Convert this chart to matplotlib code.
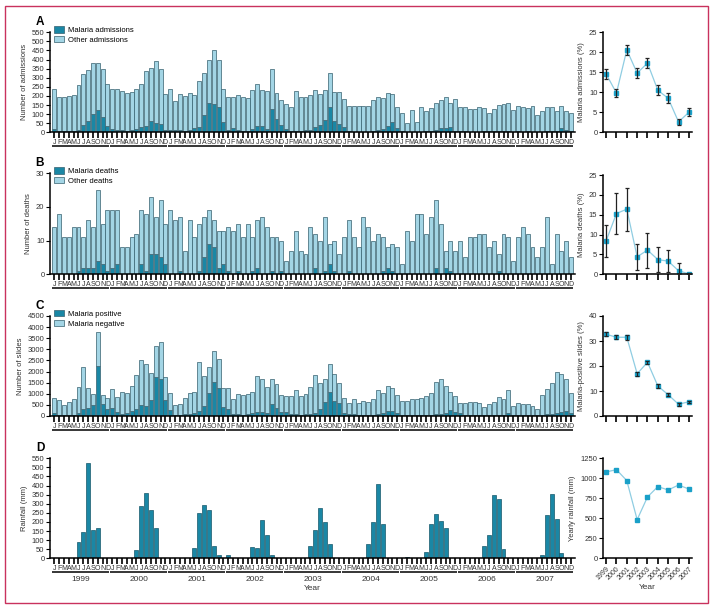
import numpy as np
import matplotlib.pyplot as plt
from matplotlib.patches import Rectangle, Patch
from matplotlib.transforms import blended_transform_factory

plt.rcParams['font.family'] = ['Liberation Sans Narrow', 'Liberation Sans', 'DejaVu Sans']

years = [1999, 2000, 2001, 2002, 2003, 2004, 2005, 2006, 2007]
month_letters = list("JFMAMJJASOND")

# panel A - monthly admissions (total) and malaria admissions
admissions_total = [
    236, 195, 195, 200, 207, 258, 320, 340, 380, 380, 348, 265,
    240, 238, 228, 215, 224, 238, 265, 335, 352, 393, 346, 213,
    238, 170, 210, 200, 215, 205, 280, 325, 395, 455, 400, 238,
    195, 193, 203, 195, 190, 232, 265, 232, 225, 347, 215, 180,
    155, 138, 225, 193, 196, 203, 235, 210, 232, 325, 220, 220,
    183, 145, 145, 145, 145, 145, 178, 192, 189, 214, 213, 141,
    104, 49, 123, 57, 137, 117, 132, 163, 178, 192, 160, 185,
    141, 137, 130, 130, 141, 132, 108, 126, 148, 156, 160, 123,
    145, 141, 134, 145, 94, 117, 137, 137, 119, 145, 115, 108,
]
admissions_malaria = [
    16, 8, 5, 8, 8, 10, 40, 60, 100, 125, 82, 35,
    20, 15, 10, 8, 15, 20, 28, 35, 62, 52, 48, 15,
    15, 12, 10, 8, 15, 25, 30, 95, 160, 155, 140, 55,
    15, 22, 10, 8, 8, 20, 35, 35, 20, 130, 72, 40,
    18, 8, 5, 8, 10, 15, 30, 42, 68, 138, 62, 46,
    27, 5, 4, 3, 3, 3, 8, 13, 20, 37, 57, 22,
    5, 3, 2, 3, 3, 5, 8, 15, 26, 26, 27, 8,
    5, 5, 4, 3, 3, 5, 6, 8, 6, 5, 5, 4,
    5, 4, 5, 3, 3, 4, 5, 8, 5, 22, 13, 8,
]

# panel B - deaths
deaths_total = [
    14, 18, 11, 11, 14, 14, 11, 16, 14, 25, 15, 19,
    19, 19, 8, 8, 11, 12, 19, 18, 23, 17, 22, 15,
    19, 16, 17, 7, 16, 11, 15, 17, 19, 16, 13, 13,
    14, 13, 15, 11, 15, 11, 16, 17, 14, 11, 11, 10,
    4, 7, 13, 7, 6, 14, 12, 10, 17, 9, 10, 6,
    11, 16, 11, 8, 17, 14, 10, 12, 11, 8, 9, 8,
    3, 13, 10, 18, 18, 12, 17, 22, 15, 7, 10, 7,
    10, 5, 11, 11, 12, 12, 8, 10, 6, 12, 11, 4,
    11, 14, 12, 8, 5, 8, 17, 3, 12, 7, 10, 5,
]
deaths_malaria = [
    0, 0, 0, 0, 0, 1, 2, 2, 2, 4, 3, 1,
    2, 3, 0, 0, 0, 0, 3, 1, 6, 6, 5, 3,
    0, 0, 1, 0, 0, 0, 1, 5, 9, 8, 2, 3,
    1, 0, 1, 0, 0, 1, 2, 0, 0, 1, 0, 1,
    0, 0, 0, 0, 0, 0, 2, 0, 1, 3, 1, 0,
    0, 1, 0, 0, 0, 0, 0, 0, 1, 2, 1, 0,
    0, 0, 0, 0, 0, 0, 0, 2, 0, 2, 1, 0,
    0, 0, 0, 0, 0, 0, 0, 0, 1, 0, 0, 0,
    0, 0, 0, 0, 0, 0, 0, 0, 0, 0, 0, 0,
]

# panel C - slides
slides_total = [
    800, 700, 500, 650, 750, 1300, 2220, 1280, 1000, 3780, 950, 800,
    1200, 850, 1100, 1020, 1370, 1850, 2520, 2340, 1950, 3150, 3350, 1750,
    1050, 500, 540, 800, 1020, 1060, 2420, 1780, 2190, 2940, 2550, 1250,
    1260, 750, 980, 950, 980, 1060, 1780, 1650, 1320, 1680, 1430, 950,
    920, 900, 1150, 920, 980, 1300, 1850, 1500, 1650, 2340, 1890, 1470,
    800, 570, 750, 570, 660, 615, 750, 1170, 1020, 1365, 1245, 945,
    675, 660, 750, 750, 825, 900, 1035, 1515, 1665, 1365, 1095, 900,
    570, 570, 615, 615, 570, 420, 540, 615, 870, 750, 1155, 465,
    570, 525, 540, 465, 300, 945, 1215, 1470, 1965, 1875, 1650, 1020,
]
slides_positive = [
    135, 50, 50, 50, 60, 120, 300, 350, 500, 2230, 550, 330,
    350, 160, 90, 120, 240, 320, 500, 450, 720, 1750, 1670, 730,
    250, 60, 50, 70, 90, 120, 220, 470, 1020, 1550, 1260, 420,
    300, 90, 90, 60, 90, 150, 200, 180, 150, 540, 380, 160,
    200, 100, 70, 60, 70, 90, 120, 330, 620, 1065, 690, 570,
    150, 90, 70, 60, 60, 60, 60, 90, 120, 225, 225, 150,
    60, 50, 50, 50, 50, 60, 60, 80, 105, 135, 270, 200,
    120, 60, 50, 50, 50, 40, 50, 50, 60, 60, 120, 50,
    50, 40, 40, 40, 30, 60, 90, 100, 150, 180, 225, 120,
]

# panel D - rainfall (mm)
rainfall = [
    0, 0, 0, 0, 0, 88, 145, 525, 155, 168, 0, 0,
    0, 0, 0, 0, 0, 45, 288, 358, 265, 165, 0, 0,
    0, 0, 0, 0, 0, 58, 250, 295, 265, 68, 20, 4,
    17, 0, 0, 0, 0, 63, 55, 212, 130, 20, 0, 0,
    0, 0, 0, 0, 0, 68, 155, 279, 198, 79, 0, 0,
    0, 0, 0, 0, 0, 79, 200, 410, 190, 4, 0, 0,
    0, 5, 0, 0, 0, 35, 190, 242, 205, 168, 0, 0,
    0, 4, 0, 0, 0, 68, 128, 348, 325, 51, 0, 0,
    0, 0, 0, 0, 0, 18, 236, 354, 214, 31, 0, 0,
]

# yearly summaries
pct_admissions = [14.6, 9.8, 20.6, 14.8, 17.3, 10.5, 8.5, 2.6, 5.0]
pct_admissions_err = [1.2, 1.0, 1.3, 1.3, 1.3, 1.2, 1.2, 0.8, 1.0]
pct_deaths = [8.4, 15.3, 16.4, 4.4, 6.1, 3.7, 3.3, 0.9, 0.1]
pct_deaths_err = [4.0, 5.1, 5.4, 3.3, 4.4, 3.2, 2.8, 1.9, 0.3]
pct_slides = [32.7, 31.5, 31.5, 16.9, 21.5, 12.0, 8.5, 4.7, 5.7]
pct_slides_err = [0.8, 0.8, 0.9, 0.8, 0.7, 0.7, 0.6, 0.5, 0.5]
yearly_rain = [1079, 1108, 971, 483, 767, 896, 854, 916, 866]

DARK = '#1a87a5'
LIGHT = '#a3d5e5'
EDGE = '#35606e'
LINE = '#8fcde2'
MARK = '#1aa0c8'
TXT = '#333333'

W, H = 714, 609
fig = plt.figure(figsize=(W / 100, H / 100), dpi=100)


def box(x0, x1, ytop, ybot):
    return [x0 / W, 1 - ybot / H, (x1 - x0) / W, (ybot - ytop) / H]


x = np.arange(len(rainfall))


def left_panel(rows, ymax, step, ylabel, letter, year_labels=False):
    ax = fig.add_axes(box(50, 575, rows[0], rows[1]))
    ax.set_xlim(-0.9, 107.8)
    ax.set_ylim(0, ymax)
    ax.set_yticks(np.arange(0, ymax + 1, step))
    ax.set_xticks(x)
    ax.set_xticklabels(month_letters * len(years))
    for s in ['top', 'right']:
        ax.spines[s].set_visible(False)
    ax.spines['left'].set_linewidth(1.1)
    ax.spines['bottom'].set_linewidth(1.1)
    ax.tick_params(axis='x', length=4, width=1.2, pad=1, labelsize=5, labelcolor=TXT)
    ax.tick_params(axis='y', length=3, width=0.8, pad=1, labelsize=5.5, labelcolor=TXT)
    ax.set_ylabel(ylabel, fontsize=5.5, color=TXT, labelpad=3)
    trans = blended_transform_factory(ax.transData, ax.transAxes)
    for k in range(len(years)):
        ax.plot([12 * k - 0.45, 12 * k + 11.3], [-0.14, -0.14], color='black',
                lw=1.1, transform=trans, clip_on=False, solid_capstyle='butt')
        if year_labels:
            ax.text(12 * k + 5.5, -0.21, str(years[k]), transform=trans,
                    fontsize=6, color=TXT, ha='center', va='center')
    if year_labels:
        ax.text(0.5, -0.30, 'Year', transform=ax.transAxes, fontsize=6,
                color=TXT, ha='center', va='center')
    fig.text(40 / W, 1 - (rows[0] - 10) / H, letter, fontsize=8.5,
             fontweight='bold', ha='center', va='center')
    return ax


def stacked(ax, total, part, labels):
    total = np.array(total)
    part = np.array(part)
    ax.bar(x, part, width=0.82, color=DARK, edgecolor=EDGE, linewidth=0.5)
    ax.bar(x, total - part, bottom=part, width=0.82, color=LIGHT,
           edgecolor=EDGE, linewidth=0.5)
    handles = [Patch(facecolor=DARK, edgecolor=EDGE, lw=0.5),
               Patch(facecolor=LIGHT, edgecolor=EDGE, lw=0.5)]
    ax.legend(handles, labels, loc='upper left', bbox_to_anchor=(0.008, 1.06),
              frameon=False, fontsize=5.5, handlelength=1.3, handleheight=0.9,
              labelspacing=0.25, handletextpad=0.5, borderaxespad=0, borderpad=0)


def right_panel(rows, ymax, step, ylabel, vals, err=None, xlabels=False):
    ax = fig.add_axes(box(603, 692, rows[0], rows[1]))
    ax.set_xlim(1998.7, 2007.3)
    ax.set_ylim(0, ymax)
    ax.set_yticks(np.arange(0, ymax + 1, step))
    ax.set_xticks(years)
    for s in ['top', 'right']:
        ax.spines[s].set_visible(False)
    ax.spines['left'].set_linewidth(1.1)
    ax.spines['bottom'].set_linewidth(1.1)
    ax.tick_params(axis='x', length=4, width=1.2, pad=1, labelsize=5, labelcolor=TXT)
    ax.tick_params(axis='y', length=3, width=0.8, pad=1, labelsize=5.5, labelcolor=TXT)
    if xlabels:
        ax.set_xticklabels(years, rotation=45, ha='right', rotation_mode='anchor')
        ax.set_xlabel('Year', fontsize=6, color=TXT, labelpad=2)
    else:
        ax.set_xticklabels([])
    ax.set_ylabel(ylabel, fontsize=5.5, color=TXT, labelpad=3)
    ax.plot(years, vals, color=LINE, lw=0.9, zorder=1)
    ax.plot(years, vals, 's', color=MARK, ms=3.3, zorder=2)
    if err is not None:
        lower = np.minimum(err, vals)
        ax.errorbar(years, vals, yerr=[lower, err], fmt='none', ecolor='#222222',
                    elinewidth=0.9, capsize=1.5, capthick=0.9, zorder=3)
    return ax


rowsA = (32.3, 132.3)
rowsB = (173.3, 274.3)
rowsC = (316, 416)
rowsD = (458.3, 558.3)

axA = left_panel(rowsA, 550, 50, 'Number of admissions', 'A')
stacked(axA, admissions_total, admissions_malaria, ['Malaria admissions', 'Other admissions'])
axB = left_panel(rowsB, 30, 10, 'Number of deaths', 'B')
stacked(axB, deaths_total, deaths_malaria, ['Malaria deaths', 'Other deaths'])
axC = left_panel(rowsC, 4500, 500, 'Number of slides', 'C')
stacked(axC, slides_total, slides_positive, ['Malaria positive', 'Malaria negative'])
axD = left_panel(rowsD, 550, 50, 'Rainfall (mm)', 'D', year_labels=True)
axD.bar(x, rainfall, width=0.82, color=DARK, edgecolor='#17596b', linewidth=0.5)

right_panel(rowsA, 25, 5, 'Malaria admissions (%)', pct_admissions, pct_admissions_err)
right_panel((175, 274.3), 25, 5, 'Malaria deaths (%)', pct_deaths, pct_deaths_err)
right_panel(rowsC, 40, 10, 'Malaria-positive slides (%)', pct_slides, pct_slides_err)
right_panel(rowsD, 1250, 250, 'Yearly rainfall (mm)', yearly_rain, xlabels=True)

fig.add_artist(Rectangle((5 / W, 1 - 603 / H), 703 / W, 597 / H,
                         transform=fig.transFigure, fill=False,
                         edgecolor='#c9325d', lw=1))

fig.savefig('out.png', dpi=100)
